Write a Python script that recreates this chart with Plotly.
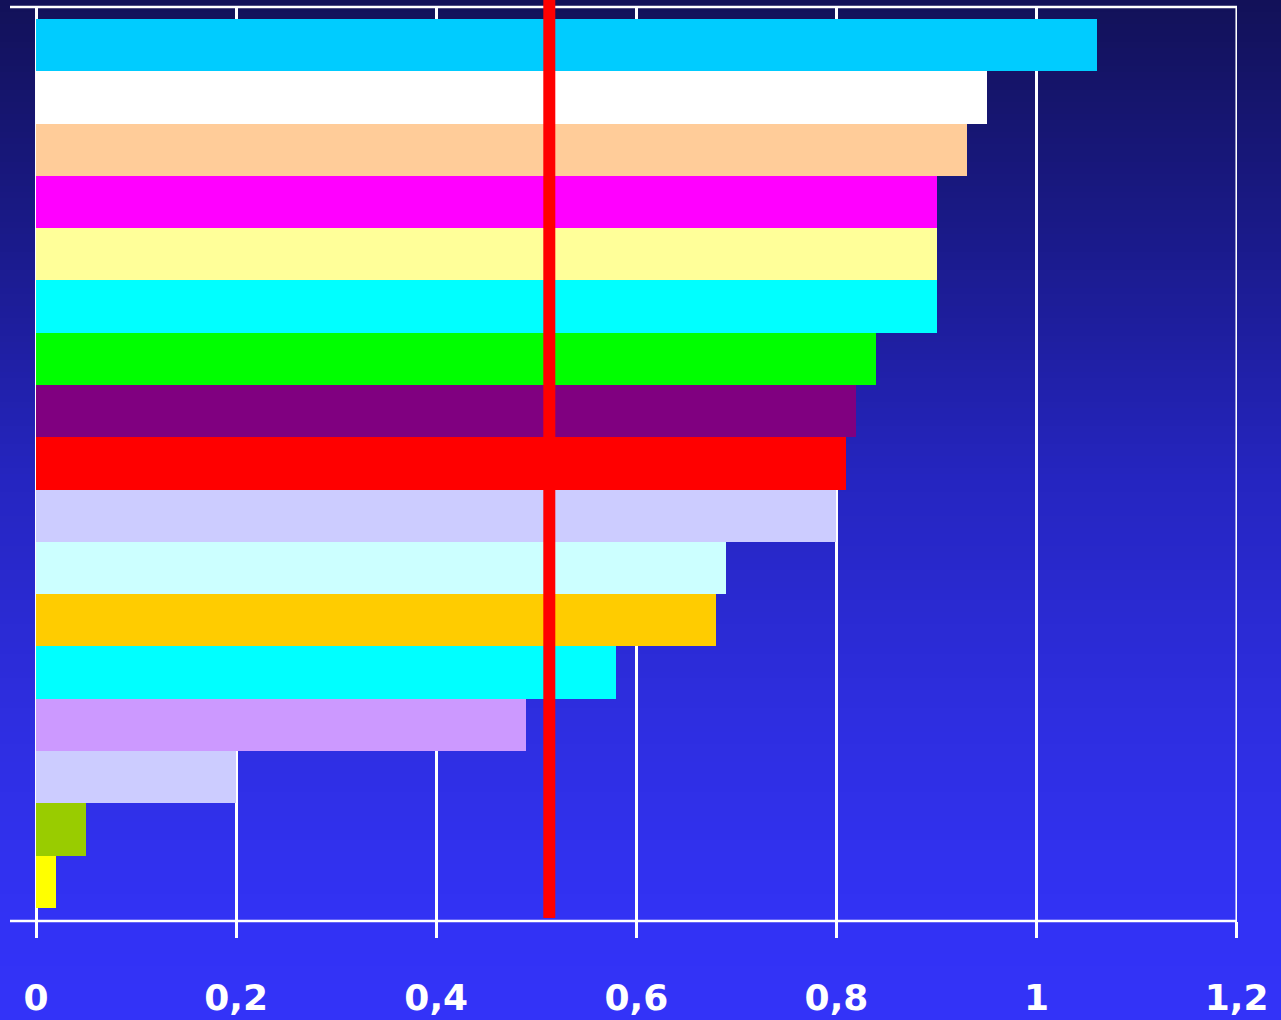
import plotly.graph_objects as go

# Bars listed from top to bottom
categories = [f"B{i}" for i in range(1, 18)]
values = [1.06, 0.95, 0.93, 0.90, 0.90, 0.90, 0.84, 0.82, 0.81, 0.80,
          0.69, 0.68, 0.58, 0.49, 0.20, 0.05, 0.02]
colors = ["#00CCFF", "#FFFFFF", "#FFCC99", "#FF00FF", "#FFFF99", "#00FFFF",
          "#00FF00", "#800080", "#FF0000", "#CCCCFF", "#CCFFFF", "#FFCC00",
          "#00FFFF", "#CC99FF", "#CCCCFF", "#99CC00", "#FFFF00"]
reference_value = 0.513
tick_vals = [0, 0.2, 0.4, 0.6, 0.8, 1.0, 1.2]
tick_text = ["0", "0,2", "0,4", "0,6", "0,8", "1", "1,2"]

W, H = 1281, 1020
ML, MR, MT, MB = 36, 44, 7, 99
PW, PH = W - ML - MR, H - MT - MB

fig = go.Figure(go.Bar(
    x=values, y=categories, orientation="h",
    marker=dict(color=colors, line=dict(width=0)),
    hoverinfo="x",
))

# background gradient bands (paper coords extending over the whole page)
stops = [(0.0, (18, 17, 88)), (0.235, (26, 26, 138)), (0.47, (37, 37, 192)),
         (0.705, (46, 46, 224)), (0.9, (50, 50, 244)), (1.0, (51, 51, 248))]

def col_at(t):
    for (t0, c0), (t1, c1) in zip(stops[:-1], stops[1:]):
        if t <= t1:
            f = (t - t0) / (t1 - t0) if t1 > t0 else 0
            return "rgb(%d,%d,%d)" % tuple(round(a + (b - a) * f) for a, b in zip(c0, c1))
    return "rgb(%d,%d,%d)" % stops[-1][1]

shapes = []
N = 170
for i in range(N):
    py0 = i * H / N
    py1 = (i + 1) * H / N + 1
    y_top = 1 - (py0 - MT) / PH
    y_bot = 1 - (py1 - MT) / PH
    shapes.append(dict(type="rect", xref="paper", yref="paper",
                       x0=-ML / PW, x1=1 + MR / PW, y0=y_bot, y1=y_top,
                       fillcolor=col_at((py0 + py1) / 2 / H), line=dict(width=0),
                       layer="below"))

# top and bottom frame lines extending left
for yy in (0, 1):
    shapes.append(dict(type="line", xref="paper", yref="paper",
                       x0=-26 / PW, x1=1, y0=yy, y1=yy,
                       line=dict(color="white", width=2.5), layer="above"))

# right edge gridline at the last tick
shapes.append(dict(type="line", xref="x", yref="paper",
                   x0=tick_vals[-1], x1=tick_vals[-1], y0=0, y1=1,
                   line=dict(color="white", width=2.5), layer="below"))

# red reference line
shapes.append(dict(type="line", xref="x", yref="paper",
                   x0=reference_value, x1=reference_value,
                   y0=3 / PH, y1=1 + MT / PH,
                   line=dict(color="#FF0000", width=12), layer="above"))

fig.update_layout(
    width=W, height=H,
    margin=dict(l=ML, r=MR, t=MT, b=MB, pad=0),
    paper_bgcolor="#3333F8", plot_bgcolor="rgba(0,0,0,0)",
    bargap=0, showlegend=False, shapes=shapes,
    xaxis=dict(range=[0, 1.2003], tickvals=tick_vals, ticktext=tick_text,
               automargin=False,
               showgrid=True, gridcolor="white", gridwidth=2.5,
               zeroline=True, zerolinecolor="white", zerolinewidth=2.5,
               showline=False,
               ticks="outside", ticklen=16, tickwidth=2.5, tickcolor="white",
               ticklabelstandoff=29,
               tickfont=dict(family="DejaVu Sans", size=36, color="white", weight="bold")),
    yaxis=dict(range=[16.75, -0.73], showticklabels=False, showgrid=False,
               zeroline=False, showline=False, ticks="", automargin=False),
)

fig.write_html("out.html")
